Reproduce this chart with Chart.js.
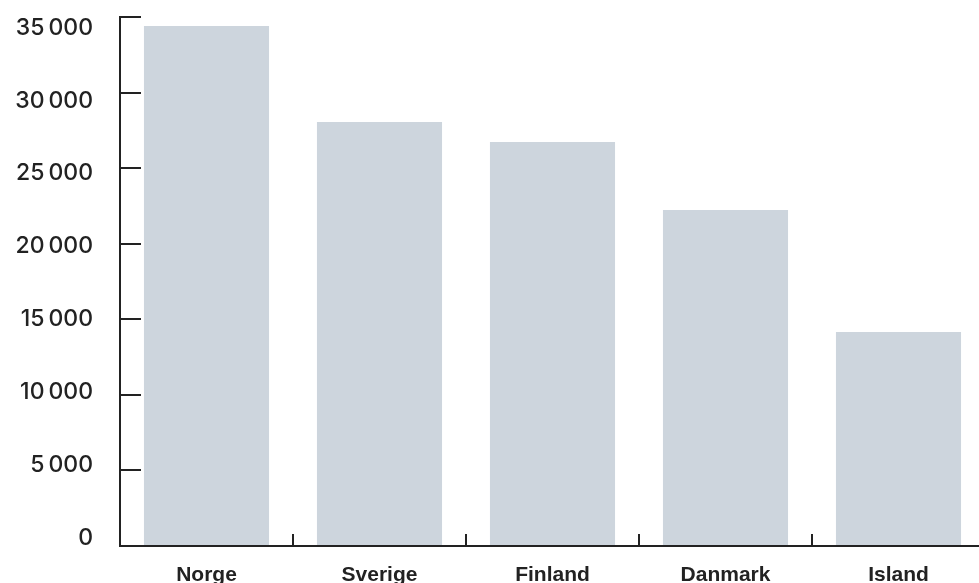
<!DOCTYPE html>
<html>
<head>
<meta charset="utf-8">
<script src="https://cdn.jsdelivr.net/npm/chart.js@4/dist/chart.umd.min.js"></script>
<style>
  html, body { margin: 0; padding: 0; background: #fff; overflow: hidden; }
  #wrap { width: 979px; height: 583px; overflow: hidden; }
</style>
</head>
<body>
<div id="wrap"><canvas id="chart" width="985" height="583"></canvas></div>
<script>
const countries = ["Norge", "Sverige", "Finland", "Danmark", "Island"];
const values = [34400, 28050, 26730, 22230, 14160];
const yTickValues = [0, 5000, 10000, 15000, 20000, 25000, 30000, 35000];
const yTickLabels = ["0", "5\u202F000", "10\u202F000", "15\u202F000", "20\u202F000", "25\u202F000", "30\u202F000", "35\u202F000"];

const ink = "#222222";

const ctx = document.getElementById("chart").getContext("2d");
const myChart = new Chart(ctx, {
  type: "bar",
  data: {
    labels: countries,
    datasets: [
      {
        data: values,
        xAxisID: "x",
        yAxisID: "y",
        backgroundColor: "#cdd5dd",
        barPercentage: 0.723,
        categoryPercentage: 1,
      },
    ],
  },
  options: {
    responsive: false,
    animation: false,
    layout: { padding: { top: 17, right: 0, bottom: 0, left: 0 } },
    plugins: {
      legend: { display: false },
      tooltip: { enabled: false },
    },
    scales: {
      x: {
        offset: true,
        grid: {
          offset: true,
          drawOnChartArea: false,
          drawTicks: true,
          tickLength: -12, // ticks point up into the plot
          color: ink,
          lineWidth: 2,
        },
        border: { display: true, color: ink, width: 2 },
        ticks: {
          color: ink,
          padding: 29,
          font: { family: "'Liberation Sans', Arial, sans-serif", size: 21, weight: "bold" },
        },
        afterFit: (scale) => {
          scale.height = 37;
          scale.paddingLeft = 0;
          scale.paddingRight = 0;
        },
      },
      // value axis: line and inward tick marks
      y: {
        weight: 0,
        min: 0,
        max: 35000,
        grid: {
          drawOnChartArea: false,
          drawTicks: true,
          tickLength: -21, // ticks point right into the plot
          color: ink,
          lineWidth: 2,
        },
        border: { display: true, color: ink, width: 2 },
        ticks: { stepSize: 5000, display: false },
        afterFit: (scale) => {
          scale.width = 27;
          scale.paddingTop = 0;
          scale.paddingBottom = 0;
        },
      },
      // label axis: the tick labels sit on a slightly tighter spacing than the tick marks
      y2: {
        display: true,
        axis: "y",
        type: "linear",
        position: "left",
        weight: 1,
        min: -549,
        max: 35733,
        grid: { display: false, drawTicks: false },
        border: { display: false },
        afterBuildTicks: (scale) => {
          scale.ticks = yTickValues.map((v) => ({ value: v }));
        },
        ticks: {
          display: true,
          autoSkip: false,
          color: ink,
          padding: 0,
          font: { family: "Inter, sans-serif", size: 23, weight: 500 },
          callback: (value, index) => yTickLabels[index],
        },
        afterFit: (scale) => {
          scale.width = 93;
          scale.paddingTop = 0;
          scale.paddingBottom = 0;
        },
      },
    },
  },
});
</script>
</body>
</html>
